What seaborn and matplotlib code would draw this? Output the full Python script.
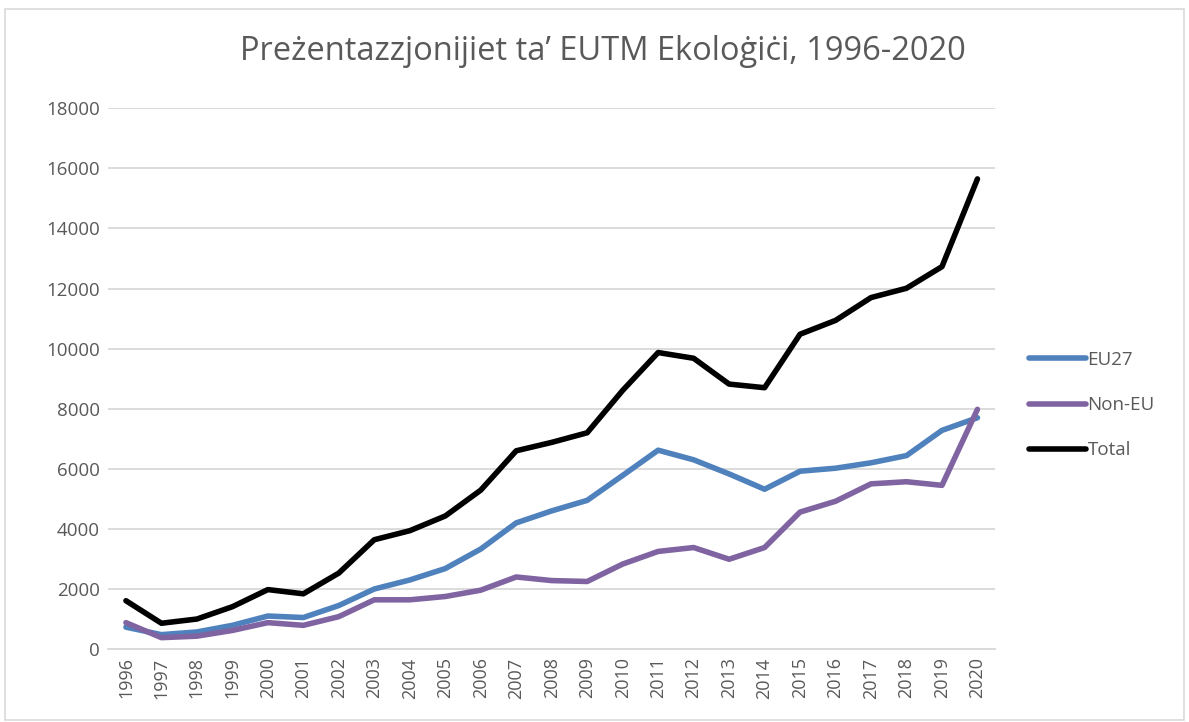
import seaborn as sns
import matplotlib.pyplot as plt
import pandas as pd
from matplotlib.patches import Rectangle

years = list(range(1996, 2021))

eu27 = [730, 480, 570, 790, 1100, 1050, 1450, 2000, 2300, 2680, 3330, 4200, 4600,
        4950, 5780, 6620, 6300, 5830, 5320, 5920, 6020, 6200, 6440, 7280, 7700]
non_eu = [880, 380, 430, 620, 880, 790, 1080, 1640, 1640, 1750, 1960, 2400, 2280,
          2250, 2830, 3250, 3380, 2990, 3380, 4560, 4920, 5500, 5570, 5450, 7980]
total = [1610, 860, 1000, 1410, 1980, 1840, 2530, 3640, 3940, 4430, 5290, 6600, 6880,
         7200, 8610, 9870, 9680, 8820, 8700, 10480, 10940, 11700, 12010, 12730, 15650]

series_names = ['EU27', 'Non-EU', 'Total']
colors = ['#4F81BD', '#8064A2', '#000000']

df = pd.DataFrame({'EU27': eu27, 'Non-EU': non_eu, 'Total': total}, index=years)
df_long = df.reset_index(names='year').melt(id_vars='year', var_name='series', value_name='value')

sns.set_style('white')
plt.rcParams['font.family'] = ['Open Sans', 'DejaVu Sans']

fig = plt.figure(figsize=(11.89, 7.22), dpi=100)
ax = fig.add_axes([0.091, 0.101, 0.746, 0.749])

sns.lineplot(data=df_long, x='year', y='value', hue='series', hue_order=series_names,
             palette=colors, linewidth=4.0, ax=ax, legend=True)

ax.set_xlim(1995.5, 2020.5)
ax.set_ylim(0, 18000)
ax.set_xticks(years)
ax.set_xticklabels([str(y) for y in years], rotation=90, fontsize=13, color='#595959')
ax.set_yticks(range(0, 18001, 2000))
ax.set_yticklabels([str(v) for v in range(0, 18001, 2000)], fontsize=13.5, color='#595959')
ax.tick_params(axis='both', length=0, pad=6)
ax.set_xlabel('')
ax.set_ylabel('')
ax.yaxis.grid(True, color='#D9D9D9', linewidth=1.3)
ax.set_axisbelow(True)
for side in ['top', 'right', 'left']:
    ax.spines[side].set_visible(False)
ax.spines['bottom'].set_color('#D9D9D9')
ax.spines['bottom'].set_linewidth(1.3)

fig.text(0.507, 0.928, 'Preżentazzjonijiet ta’ EUTM Ekoloġiċi, 1996-2020',
         ha='center', va='center', fontsize=23.5, color='#595959')

leg = ax.legend(loc='center left', bbox_to_anchor=(1.03, 0.451), frameon=False,
                borderaxespad=0, fontsize=13.5, handlelength=3.0, handletextpad=0.1,
                labelspacing=1.45)
for t in leg.get_texts():
    t.set_color('#595959')
for line in leg.get_lines():
    line.set_linewidth(4.0)
    line.set_solid_capstyle('round')

fig.patches.append(Rectangle((0.004, 0.003), 0.992, 0.985, transform=fig.transFigure,
                             fill=False, edgecolor='#D9D9D9', linewidth=1.2))

fig.savefig('out.png', dpi=100)
